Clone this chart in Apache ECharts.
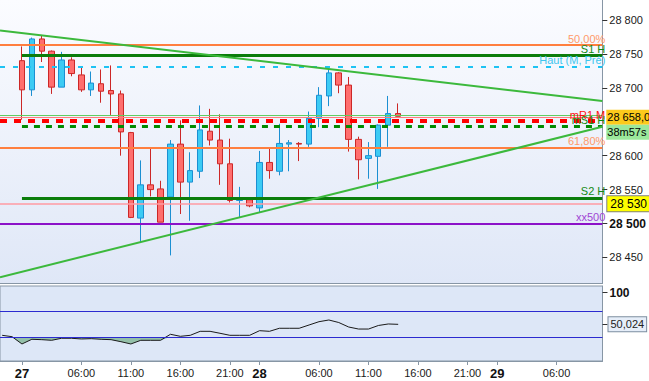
<!DOCTYPE html>
<html><head><meta charset="utf-8">
<script src="https://cdn.jsdelivr.net/npm/echarts@6/dist/echarts.min.js"></script>
<style>html,body{margin:0;padding:0;background:#fff;}#c{width:649px;height:381px;}</style>
</head><body><div id="c"></div>
<script>
// ---- data ----
const hours  = [0,1,2,3,4,5,6,7,8,9,10,11,12,13,14,15,16,17,18,19,20,21,22,23,24,25,26,27,28,29,30,31,32,33,34,35,36,37,38];
const opens  = [28740,28697,28772,28754,28701,28741,28719,28697,28706,28696,28691,28634,28508,28557,28551,28539,28617,28561,28577,28636,28623,28588,28534,28535,28523,28590,28577,28617,28618,28617,28655,28688,28722,28704,28624,28596,28599,28645,28662];
const closes = [28697,28772,28754,28701,28741,28721,28697,28707,28695,28691,28635,28509,28557,28550,28502,28617,28561,28578,28638,28623,28588,28534,28538,28526,28590,28578,28618,28619,28617,28655,28689,28722,28704,28624,28594,28600,28645,28662,28658];
const lows   = [28653,28688,28738,28691,28701,28717,28694,28688,28678,28660,28600,28508,28472,28540,28502,28453,28514,28504,28567,28615,28557,28531,28509,28524,28516,28566,28571,28577,28592,28613,28642,28673,28692,28606,28565,28566,28551,28613,28658];
const highs  = [28761,28774,28777,28755,28753,28745,28730,28724,28727,28733,28696,28635,28593,28610,28563,28623,28652,28605,28674,28669,28661,28625,28554,28536,28607,28610,28647,28623,28620,28665,28701,28728,28723,28716,28628,28620,28646,28688,28677];

const tickHours  = [0,6,11,16,21,24,30,35,40,45,48,54];
const tickLabels = ['27','06:00','11:00','16:00','21:00','28','06:00','11:00','16:00','21:00','29','06:00'];
const dayLabels  = ['27','28','29'];
const priceTicks = [28450,28500,28550,28600,28700,28750,28800];
const boldPrice  = 28500;

const levelValues = [28763, 28747.4, 28731.7, 28659, 28656.5, 28651, 28643, 28611.4, 28537.9, 28529, 28500];
const levelLabels = ['50,00%','S1 H','Haut (M, Pré)','','28 658,0','mR1 M','mS1 H','61,80%','S2 H','28 530','xx500'];
const countdown = '38m57s';
const trendStart = [28784.6, 28420.9];
const trendEnd   = [28680.4, 28642.5];

const indHours  = [-2,-1,0,1,2,3,4,5,6,7,8,9,10,11,12,13,14,15,16,17,18,19,20,21,22,23,24,25,26,27,28,29,30,31,32,33,34,35,36,37,38];
const indValues = [32.7,30.5,19,26.4,25.8,24.8,28,28,26.9,27.4,26.4,25.8,22.6,19,24.8,24.8,24.8,34.3,31.1,32.7,39,39,35.9,32.7,32.7,32.7,40,39,43.8,43.8,43.8,49,54.2,56.9,52.9,45.8,42.6,42.6,48.2,50.6,50.024];
const indBands  = [70, 30];
const indTicks  = [100];

// ---- view ----
const xMin = -2.2185, xMax = 58.638;
const FONT = 'Liberation Sans, Arial, sans-serif';
const AX = '#8796a5';
const fmtPrice = v => String(v).replace(/(\d\d)(\d{3})$/, '$1 $2');

const levelStyles = [
  {color:'#ff7f3f', width:2, type:'solid', text:'#ff9a6a', kind:'top', full:true},
  {color:'#0b7d0b', width:3, type:'solid', text:'#148a14', kind:'top', full:false},
  {color:'#1ec3f3', width:2, type:[5,8], text:'#3ec6ef', kind:'top', full:true},
  {color:'#62cc62', width:1, type:'solid', kind:'none', full:true},
  {color:'#ff7b7b', width:1, type:'solid', kind:'price', full:true},
  {color:'#ff0000', width:4, type:[7,7], text:'#ff1010', kind:'top', full:true},
  {color:'#008a00', width:3, type:[6,6], text:'#108c10', kind:'top', full:false},
  {color:'#ff7f3f', width:2, type:'solid', text:'#ff9a6a', kind:'top', full:true},
  {color:'#0b7d0b', width:3, type:'solid', text:'#148a14', kind:'top', full:false},
  {color:'#ff9aa2', width:1.5, type:'solid', kind:'box', full:true},
  {color:'#8c12c8', width:2, type:'solid', text:'#a044d4', kind:'top', full:true}
];

function levelLabel(i){
  const s = levelStyles[i];
  if (s.kind === 'top') return {show:true, position:'insideEndTop', formatter: levelLabels[i], color:s.text, fontSize:11, fontFamily:FONT, distance:[-3,1]};
  if (s.kind === 'price') return {show:true, position:'end', distance:4, offset:[0,7.5],
      formatter:'{p|' + levelLabels[i] + '}\n{t|' + countdown + '}',
      rich:{p:{backgroundColor:'#fcca1c', color:'#000', fontSize:11, fontFamily:FONT, height:15, width:44, padding:[0,1]},
            t:{backgroundColor:'#9be89b', color:'#000', fontSize:11, fontFamily:FONT, height:15, width:44, padding:[0,1]}}};
  if (s.kind === 'box') return {show:true, position:'end', distance:5, formatter: levelLabels[i], backgroundColor:'#ffff00',
      borderColor:'#7f7f7f', borderWidth:1, padding:[2,3,1,3], color:'#000', fontSize:12, fontFamily:FONT};
  return {show:false};
}

const mainLines = levelValues.map((v,i)=>{
  const s = levelStyles[i];
  const common = {lineStyle:{color:s.color, width:s.width, type:s.type}, label:levelLabel(i)};
  if (s.full) return Object.assign({yAxis:v}, common);
  return [Object.assign({coord:[hours[0], v]}, common), {coord:[xMax, v]}];
});
trendStart.forEach((v,i)=>{
  mainLines.push([{coord:[xMin, v], lineStyle:{color:'#3cb93c', width:2, type:'solid'}, label:{show:false}}, {coord:[xMax, trendEnd[i]]}]);
});

const candleData = hours.map((h,i)=>[h, opens[i], closes[i], lows[i], highs[i]]);
const indData = indHours.map((h,i)=>[h, indValues[i]]);
const indLow = indHours.map((h,i)=>[h, Math.min(indValues[i], indBands[1])]);
const indLast = indValues[indValues.length-1];

const chart = echarts.init(document.getElementById('c'), null, {renderer:'svg', width:649, height:381});
chart.setOption({
  animation:false,
  backgroundColor:'#ffffff',
  textStyle:{fontFamily:FONT},
  grid:[
    {left:-1, right:46.5, top:-1, bottom:97.5, show:true, borderWidth:0,
     backgroundColor:{type:'linear', x:0, y:0, x2:0, y2:1, colorStops:[{offset:0,color:'#fbfcff'},{offset:1,color:'#dfe7f7'}]}},
    {left:-1, right:46.5, top:286, bottom:20, show:true, borderColor:AX, borderWidth:1, backgroundColor:'#dde7f7'}
  ],
  xAxis:[
    {type:'value', gridIndex:0, min:xMin, max:xMax, axisLine:{show:true, onZero:false, lineStyle:{color:AX}},
     axisTick:{show:false}, axisLabel:{show:false}, splitLine:{show:false}},
    {type:'value', gridIndex:1, min:xMin, max:xMax, axisLine:{show:true, onZero:false, lineStyle:{color:AX}},
     axisTick:{show:true, length:4, customValues:tickHours, lineStyle:{color:AX}},
     axisLabel:{show:true, customValues:tickHours, margin:6, color:'#1a1a1a', fontSize:11, fontFamily:FONT,
       formatter: v => { const t = tickLabels[tickHours.indexOf(v)] || ''; return dayLabels.indexOf(t) >= 0 ? '{d|' + t + '}' : t; },
       rich:{d:{fontSize:13, fontWeight:'bold', color:'#111', fontFamily:FONT}}},
     splitLine:{show:false}}
  ],
  yAxis:[
    {type:'value', gridIndex:0, position:'right', min:28411.6, max:28829.4,
     axisLine:{show:true, onZero:false, lineStyle:{color:AX}},
     axisTick:{show:true, length:5, customValues:priceTicks, lineStyle:{color:'#333'}},
     axisLabel:{show:true, customValues:priceTicks, margin:7, color:'#1a1a1a', fontSize:11, fontFamily:FONT,
       formatter: v => v === boldPrice ? '{b|' + fmtPrice(v) + '}' : fmtPrice(v),
       rich:{b:{fontSize:12, fontWeight:'bold', color:'#111', fontFamily:FONT}}},
     splitLine:{show:false}},
    {type:'value', gridIndex:1, position:'right', min:-7.9, max:110.6,
     axisLine:{show:true, onZero:false, lineStyle:{color:AX}},
     axisTick:{show:true, length:5, customValues:indTicks.concat([indLast]), lineStyle:{color:'#333'}},
     axisLabel:{show:true, customValues:indTicks, margin:7, color:'#111', fontSize:12, fontWeight:'bold', fontFamily:FONT},
     splitLine:{show:false}}
  ],
  series:[
    {type:'candlestick', xAxisIndex:0, yAxisIndex:0, data:candleData, encode:{x:0, y:[1,2,3,4]}, barWidth:6,
     itemStyle:{color:'#3ccbf4', color0:'#ff6e6e', borderColor:'#1b8fd2', borderColor0:'#cc2727', borderWidth:1},
     markLine:{silent:true, symbol:['none','none'], animation:false, data:mainLines}},
    {type:'line', xAxisIndex:1, yAxisIndex:1, data:indLow, symbol:'none', lineStyle:{width:0, opacity:0},
     areaStyle:{origin:indBands[1], color:'#8cbba0', opacity:0.9},
     markLine:{silent:true, symbol:['none','none'], animation:false,
       data: indBands.map(b=>({yAxis:b, lineStyle:{color:'#2b2bd0', width:1, type:'solid'}, label:{show:false}}))}},
    {type:'line', xAxisIndex:1, yAxisIndex:1, data:indData, symbol:'none', lineStyle:{color:'#1a1a1a', width:1},
     markLine:{silent:true, symbol:['none','none'], animation:false,
       data:[{yAxis:indLast, lineStyle:{color:'rgba(0,0,0,0)', width:1}, label:{show:true, position:'end', distance:6,
         formatter: indLast.toFixed(3).replace('.', ','), backgroundColor:'#e6eef9', borderColor:'#7d8ea0', borderWidth:1,
         padding:[2,2,1,2], color:'#222', fontSize:11, fontFamily:FONT, opacity:1}}]}}
  ]
});
</script></body></html>
